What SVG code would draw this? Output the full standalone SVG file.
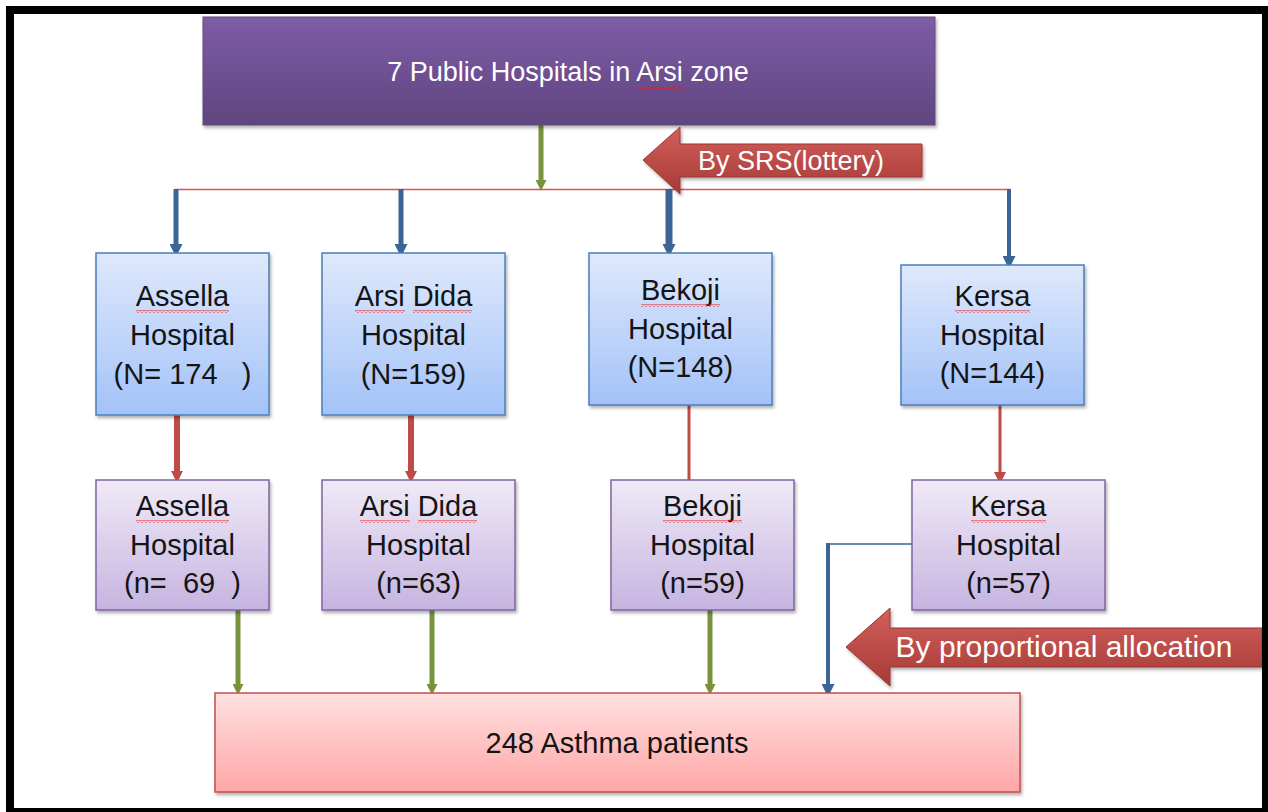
<svg xmlns="http://www.w3.org/2000/svg" width="1268" height="812" viewBox="0 0 1268 812">
<style>
.t{font-family:"Liberation Sans",Arial,sans-serif;text-anchor:middle}
.bt{font-size:29px;fill:#141414}
.wt{fill:#ffffff}
.sq{fill:url(#squig)}
.blue{fill:url(#gBlue);stroke:#4A7EBB;stroke-width:1.5}
.lav{fill:url(#gLav);stroke:#8064A2;stroke-width:1.5}
.cb{stroke:#3B6497;fill:none}
.cg{stroke:#77933C;stroke-width:5;fill:none}
.cr{stroke:#BE4B48;fill:none}
</style>
<defs>
<linearGradient id="gTop" x1="0" y1="0" x2="0" y2="1"><stop offset="0" stop-color="#7F5CA8"/><stop offset="1" stop-color="#5F457E"/></linearGradient>
<linearGradient id="gBlue" x1="0" y1="0" x2="0" y2="1"><stop offset="0" stop-color="#DFE9FC"/><stop offset="1" stop-color="#A3C2F8"/></linearGradient>
<linearGradient id="gLav" x1="0" y1="0" x2="0" y2="1"><stop offset="0" stop-color="#EFEAF7"/><stop offset="1" stop-color="#C6B4E0"/></linearGradient>
<linearGradient id="gPink" x1="0" y1="0" x2="0" y2="1"><stop offset="0" stop-color="#FFE0E0"/><stop offset="1" stop-color="#FFA6A6"/></linearGradient>
<linearGradient id="gRed" x1="0" y1="0" x2="0" y2="1"><stop offset="0" stop-color="#D25F5B"/><stop offset="1" stop-color="#A63A37"/></linearGradient>
<filter id="sh" x="-5%" y="-5%" width="115%" height="120%"><feDropShadow dx="1.5" dy="2.5" stdDeviation="1.5" flood-color="#000" flood-opacity="0.3"/></filter>
<pattern id="squig" width="4" height="3" patternUnits="userSpaceOnUse"><path d="M0,2.5 L2,0.5 L4,2.5" stroke="#E8201E" stroke-width="1" fill="none"/></pattern>
<marker id="hb" markerUnits="userSpaceOnUse" markerWidth="13" markerHeight="13" viewBox="0 0 10 10" refX="0" refY="5" orient="auto"><path d="M0,0 L10,5 L0,10 z" fill="#3B6497"/></marker>
<marker id="hg" markerUnits="userSpaceOnUse" markerWidth="11" markerHeight="11" viewBox="0 0 10 10" refX="0" refY="5" orient="auto"><path d="M0,0 L10,5 L0,10 z" fill="#77933C"/></marker>
<marker id="hr" markerUnits="userSpaceOnUse" markerWidth="12" markerHeight="12" viewBox="0 0 10 10" refX="0" refY="5" orient="auto"><path d="M0,0 L10,5 L0,10 z" fill="#BE4B48"/></marker>
</defs>

<rect x="0" y="0" width="1268" height="812" fill="#ffffff"/>
<rect x="6" y="6" width="1262" height="806" fill="#000000"/>
<rect x="14" y="14" width="1248" height="794" fill="#ffffff"/>

<g id="connectors">
  <path class="cg" d="M541,125 V180" marker-end="url(#hg)"/>
  <path d="M175,189.5 H1010" stroke="#D9534F" stroke-width="1.5" fill="none"/>
  <path class="cb" stroke-width="5" d="M176,189 V244" marker-end="url(#hb)"/>
  <path class="cb" stroke-width="5" d="M401,189 V244" marker-end="url(#hb)"/>
  <path class="cb" stroke-width="7" d="M669,189 V244" marker-end="url(#hb)"/>
  <path class="cb" stroke-width="4" d="M1009,189 V256" marker-end="url(#hb)"/>
  <path class="cr" stroke-width="6" d="M177,415 V471" marker-end="url(#hr)"/>
  <path class="cr" stroke-width="6" d="M411,415 V471" marker-end="url(#hr)"/>
  <path class="cr" stroke-width="3" d="M689,405 V480"/>
  <path class="cr" stroke-width="3" d="M1000,405 V472" marker-end="url(#hr)"/>
  <path class="cg" d="M238,610 V684" marker-end="url(#hg)"/>
  <path class="cg" d="M432,610 V684" marker-end="url(#hg)"/>
  <path class="cg" d="M710,610 V684" marker-end="url(#hg)"/>
  <path class="cb" stroke-width="1.5" d="M912,544 H828"/>
  <path class="cb" stroke-width="4" d="M828,543 V684" marker-end="url(#hb)"/>
</g>

<g id="top">
  <rect x="203" y="17" width="732" height="108" fill="url(#gTop)" stroke="#5E4A7A" stroke-width="1" filter="url(#sh)"/>
  <text class="t wt" x="568" y="81" font-size="27">7 Public Hospitals in Arsi zone</text>
  <rect class="sq" x="637" y="86" width="46" height="3"/>
</g>

<g id="srs-arrow">
  <path d="M643,160 L680,127 L680,144 L922,144 L922,177 L680,177 L680,194 Z" fill="url(#gRed)" stroke="#9E3532" stroke-width="1" filter="url(#sh)"/>
  <text class="t wt" x="791" y="170" font-size="27">By SRS(lottery)</text>
</g>

<g id="assella-n">
  <rect class="blue" x="96" y="253" width="173" height="162" filter="url(#sh)"/>
  <text class="t bt" x="182.5" y="306">Assella</text>
  <rect class="sq" x="136" y="310" width="93" height="3"/>
  <text class="t bt" x="182.5" y="345">Hospital</text>
  <text class="t bt" x="182.5" y="384" xml:space="preserve">(N= 174   )</text>
</g>
<g id="arsidida-n">
  <rect class="blue" x="322" y="253" width="183" height="162" filter="url(#sh)"/>
  <text class="t bt" x="413.5" y="306">Arsi Dida</text>
  <rect class="sq" x="355" y="310" width="50" height="3"/>
  <rect class="sq" x="413" y="310" width="59" height="3"/>
  <text class="t bt" x="413.5" y="345">Hospital</text>
  <text class="t bt" x="413.5" y="384">(N=159)</text>
</g>
<g id="bekoji-n">
  <rect class="blue" x="589" y="253" width="183" height="152" filter="url(#sh)"/>
  <text class="t bt" x="680.5" y="300">Bekoji</text>
  <rect class="sq" x="641" y="304" width="79" height="3"/>
  <text class="t bt" x="680.5" y="339">Hospital</text>
  <text class="t bt" x="680.5" y="377">(N=148)</text>
</g>
<g id="kersa-n">
  <rect class="blue" x="901" y="265" width="183" height="140" filter="url(#sh)"/>
  <text class="t bt" x="992.5" y="306">Kersa</text>
  <rect class="sq" x="955" y="310" width="75" height="3"/>
  <text class="t bt" x="992.5" y="345">Hospital</text>
  <text class="t bt" x="992.5" y="383">(N=144)</text>
</g>

<g id="assella-s">
  <rect class="lav" x="96" y="480" width="173" height="130" filter="url(#sh)"/>
  <text class="t bt" x="182.5" y="516">Assella</text>
  <rect class="sq" x="136" y="520" width="93" height="3"/>
  <text class="t bt" x="182.5" y="555">Hospital</text>
  <text class="t bt" x="182.5" y="593" xml:space="preserve">(n=  69  )</text>
</g>
<g id="arsidida-s">
  <rect class="lav" x="322" y="480" width="193" height="130" filter="url(#sh)"/>
  <text class="t bt" x="418.5" y="516">Arsi Dida</text>
  <rect class="sq" x="360" y="520" width="50" height="3"/>
  <rect class="sq" x="418" y="520" width="59" height="3"/>
  <text class="t bt" x="418.5" y="555">Hospital</text>
  <text class="t bt" x="418.5" y="593">(n=63)</text>
</g>
<g id="bekoji-s">
  <rect class="lav" x="611" y="480" width="183" height="130" filter="url(#sh)"/>
  <text class="t bt" x="702.5" y="516">Bekoji</text>
  <rect class="sq" x="663" y="520" width="79" height="3"/>
  <text class="t bt" x="702.5" y="555">Hospital</text>
  <text class="t bt" x="702.5" y="593">(n=59)</text>
</g>
<g id="kersa-s">
  <rect class="lav" x="912" y="480" width="193" height="130" filter="url(#sh)"/>
  <text class="t bt" x="1008.5" y="516">Kersa</text>
  <rect class="sq" x="971" y="520" width="75" height="3"/>
  <text class="t bt" x="1008.5" y="555">Hospital</text>
  <text class="t bt" x="1008.5" y="593">(n=57)</text>
</g>

<g id="prop-arrow">
  <path d="M846,647 L890,608 L890,628 L1262,628 L1262,667 L890,667 L890,686 Z" fill="url(#gRed)" stroke="#9E3532" stroke-width="1" filter="url(#sh)"/>
  <text class="t wt" x="1064" y="657" font-size="30">By proportional allocation</text>
</g>

<g id="patients">
  <rect x="215" y="693" width="805" height="99" fill="url(#gPink)" stroke="#C0504D" stroke-width="1.5" filter="url(#sh)"/>
  <text class="t" x="617" y="753" font-size="29" fill="#141414">248 Asthma patients</text>
</g>
<rect x="1262" y="600" width="6" height="212" fill="#000000"/>
</svg>
